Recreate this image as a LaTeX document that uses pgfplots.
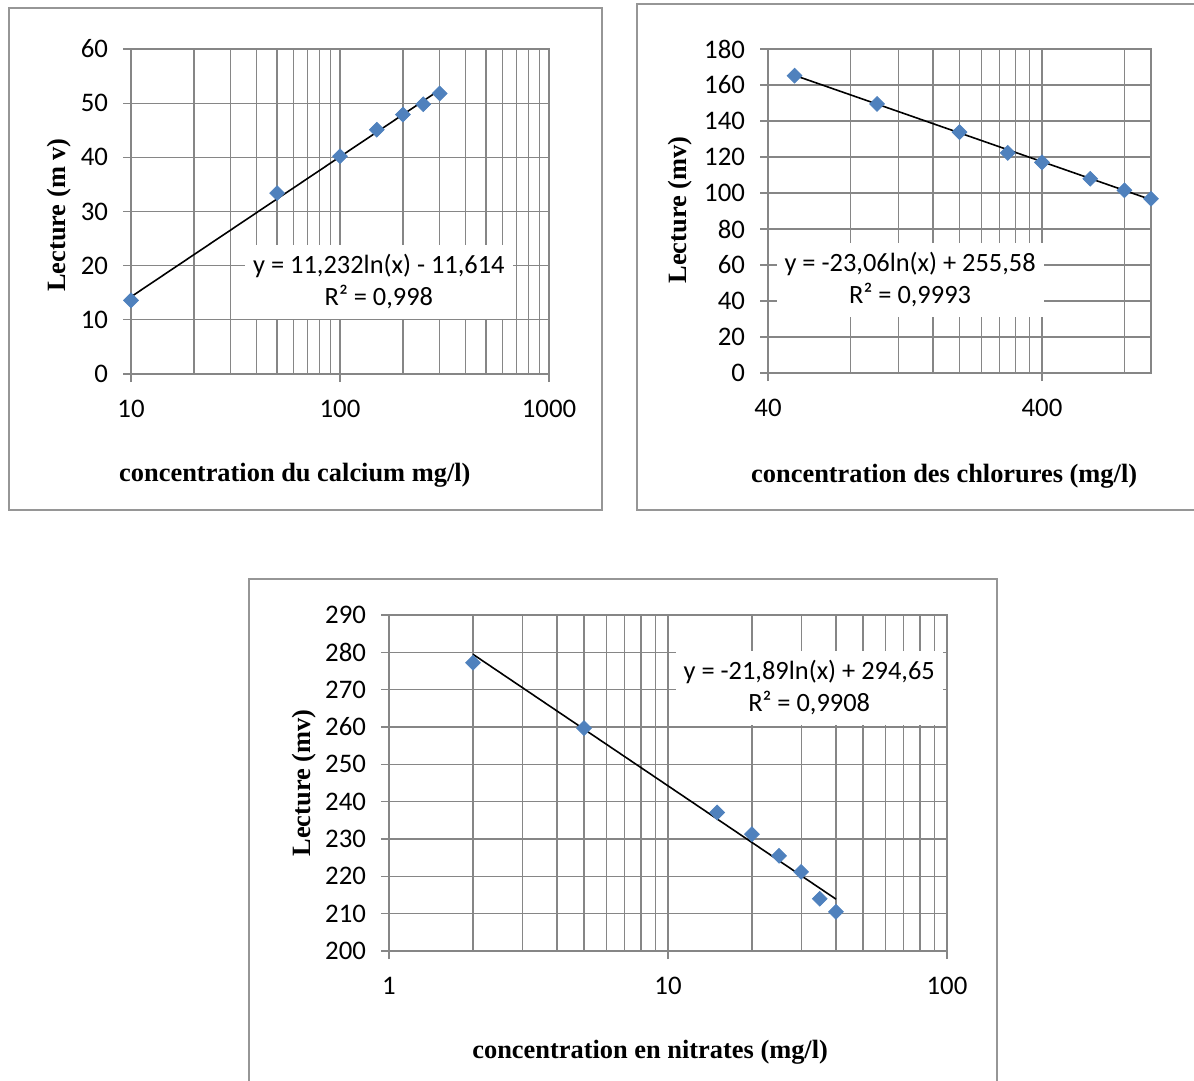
\documentclass[border=0pt]{standalone}
\usepackage{fontspec}
\setmainfont{Liberation Serif}
\newfontfamily\calibri{Carlito}
\usepackage{pgfplots}
\usepackage{pgfplotstable}
\pgfplotsset{compat=1.18}

\definecolor{gridgray}{RGB}{134,134,134}
\definecolor{framegray}{RGB}{150,150,150}
\definecolor{markblue}{RGB}{79,129,189}

% calibration curves: reading (mV) against concentration on a log axis
\pgfplotstableread{
conc  mv
10    13.6
50    33.4
100   40.2
150   45.1
200   47.9
250   49.8
300   51.8
}\calcium
\pgfplotstableread{
conc  mv
50    165.2
100   149.5
200   133.8
300   122.3
400   117.0
600   107.9
800   101.5
1000  96.8
}\chlorures
\pgfplotstableread{
conc  mv
2     277.2
5     259.7
15    237.1
20    231.3
25    225.5
30    221.2
35    214.0
40    210.5
}\nitrates

\pgfplotsset{
  calibaxis/.style={
    scale only axis,
    axis line style={gridgray, line width=0.6pt},
    tick style={gridgray, line width=0.6pt},
    major tick length=4pt,
    minor tick length=0pt,
    tick align=outside,
    xtick pos=bottom, ytick pos=left,
    grid=both,
    major grid style={gridgray, line width=0.6pt},
    minor grid style={gridgray, line width=0.6pt},
    /pgf/number format/assume math mode=true,
    ticklabel style={font=\fontsize{13.4}{15}\calibri},
    xticklabel style={anchor=base, yshift=-17.5pt},
    yticklabel style={anchor=east, xshift=-4pt},
    label style={font=\fontsize{13.2}{15}\selectfont\bfseries},
    xlabel style={anchor=center},
    ylabel style={anchor=center},
    clip=false,
  },
  calibpts/.style={only marks, mark=square*, mark size=2.6pt,
    mark options={rotate=45, fill=markblue, draw=markblue}, color=markblue},
  calibtrend/.style={black, line width=0.8pt, no marks},
}
\tikzset{eqbox/.style={fill=white, align=center, inner xsep=4pt, inner ysep=5pt,
    font=\fontsize{13.2}{16}\calibri}}

\begin{document}
\begin{tikzpicture}
\useasboundingbox (0,0) rectangle (597pt,-540.5pt);

% panel frames
\draw[framegray, line width=0.7pt] (4.5pt,-4pt) rectangle (301pt,-255pt);
\draw[framegray, line width=0.7pt] (318.5pt,-2pt) rectangle (600pt,-255pt);
\draw[framegray, line width=0.7pt] (124.5pt,-289.5pt) rectangle (498.5pt,-545pt);

% calcium
\begin{semilogxaxis}[calibaxis,
  at={(65.5pt,-187pt)}, anchor=south west,
  width=209pt, height=162.5pt,
  xmin=10, xmax=1000, ymin=0, ymax=60,
  xtick={10,100,1000}, xticklabels={10,100,1000},
  minor xtick={20,30,40,50,60,70,80,90,200,300,400,500,600,700,800,900},
  ytick={0,10,...,60},
  xlabel={concentration du calcium mg/l)},
  ylabel={Lecture (m v)},
  xlabel style={at={(axis description cs:0.392,-0.311)}},
  ylabel style={at={(axis description cs:-0.172,0.489)}},
]
\addplot[calibpts] table[x=conc, y=mv] {\calcium};
\addplot[calibtrend] coordinates {(10,14.249) (300,52.451)};
\node[eqbox] at (rel axis cs:0.593,0.283) {y = 11,232ln(x) - 11,614\\R² = 0,998};
\end{semilogxaxis}

% chlorures
\begin{semilogxaxis}[calibaxis,
  at={(384pt,-186.5pt)}, anchor=south west,
  width=191.5pt, height=162pt,
  xmin=40, xmax=1000, ymin=0, ymax=180,
  xtick={40,400}, xticklabels={40,400},
  minor xtick={80,120,160,200,240,280,320,360,800},
  ytick={0,20,...,180},
  xlabel={concentration des chlorures (mg/l)},
  ylabel={Lecture (mv)},
  xlabel style={at={(axis description cs:0.46,-0.318)}},
  ylabel style={at={(axis description cs:-0.23,0.503)}},
]
\addplot[calibpts] table[x=conc, y=mv] {\chlorures};
\addplot[calibtrend] coordinates {(50,165.369) (1000,96.287)};
\node[eqbox] at (rel axis cs:0.371,0.287) {y = -23,06ln(x) + 255,58\\R² = 0,9993};
\end{semilogxaxis}

% nitrates
\begin{semilogxaxis}[calibaxis,
  at={(194.5pt,-475.5pt)}, anchor=south west,
  width=279pt, height=168pt,
  xmin=1, xmax=100, ymin=200, ymax=290,
  xtick={1,10,100}, xticklabels={1,10,100},
  minor xtick={2,3,4,5,6,7,8,9,20,30,40,50,60,70,80,90},
  ytick={200,210,...,290},
  xlabel={concentration en nitrates (mg/l)},
  ylabel={Lecture (mv)},
  xlabel style={at={(axis description cs:0.468,-0.30)}},
  ylabel style={at={(axis description cs:-0.152,0.5)}},
]
\addplot[calibpts] table[x=conc, y=mv] {\nitrates};
\addplot[calibtrend] coordinates {(2,279.477) (40,213.900)};
\node[eqbox] at (rel axis cs:0.753,0.783) {y = -21,89ln(x) + 294,65\\R² = 0,9908};
\end{semilogxaxis}
\end{tikzpicture}
\end{document}
